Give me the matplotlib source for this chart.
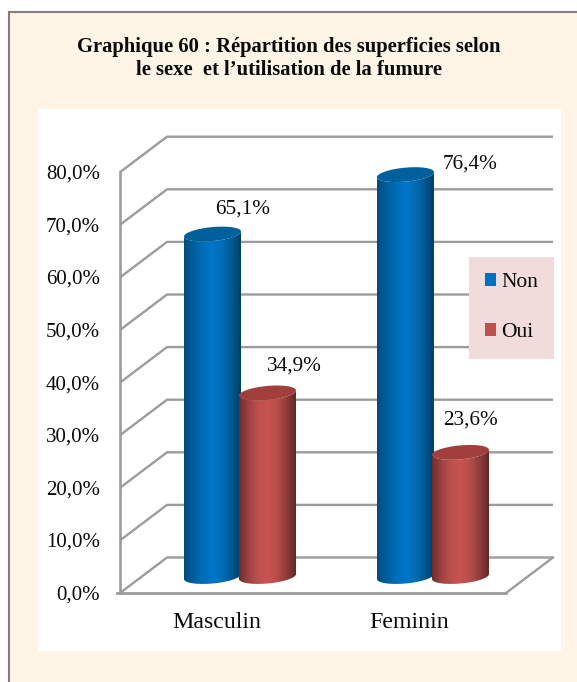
import numpy as np
import matplotlib
matplotlib.use('Agg')
import matplotlib.pyplot as plt
from matplotlib.patches import Patch, Polygon, Rectangle
from matplotlib.colors import LinearSegmentedColormap

categories = ['Masculin', 'Feminin']
series_names = ['Non', 'Oui']
non_values = [65.1, 76.4]
oui_values = [34.9, 23.6]
y_ticks = [0, 10, 20, 30, 40, 50, 60, 70, 80]
title_lines = ['Graphique 60 : Répartition des superficies selon', 'le sexe  et l’utilisation de la fumure']

W, H = 577, 682
plt.rcParams['font.family'] = ['Liberation Serif', 'DejaVu Serif']
text_c = '#0A0A0A'

fig = plt.figure(figsize=(W / 100, H / 100), dpi=100, facecolor='white')

# background panels, in pixels from top left
bg = fig.add_axes([0, 0, 1, 1])
bg.set_xlim(0, W)
bg.set_ylim(H, 0)
bg.axis('off')
bg.add_patch(Rectangle((9, 12), W - 9, H - 12, fc='#FEF5E7', ec='none'))
bg.plot([9, 9], [H, 12], color='#808080', lw=1.5, solid_capstyle='projecting')
bg.plot([9, W], [12, 12], color='#808080', lw=1.5)
bg.add_patch(Rectangle((38, 109), 523, 542, fc='white', ec='none'))
bg.text(289, 47, title_lines[0], ha='center', va='center', fontsize=14.9, fontweight='bold', color=text_c)
bg.text(289, 70, title_lines[1], ha='center', va='center', fontsize=14.9, fontweight='bold', color=text_c)

# plot axes: x from the front wall to the back right corner, y from floor to back top
x0, x1 = 120, 553
y0, y1 = 593, 136
ax = fig.add_axes([x0 / W, 1 - y0 / H, (x1 - x0) / W, (y0 - y1) / H])
ax.patch.set_alpha(0)
px_per_cat = 193.0
px_per_pct = 5.26
cx0 = 241
xlim = ((x0 - cx0) / px_per_cat, (x1 - cx0) / px_per_cat)
ylim = (0, (y0 - y1) / px_per_pct)
ax.axis('off')

# 3d frame
grid_c = '#9C9C9C'
dx = 47 / px_per_cat
dy = 35.5 / px_per_pct
xl, xr = xlim
for t in y_ticks:
    ax.plot([xl, xl + dx, xr], [t, t + dy, t + dy], color=grid_c, lw=1.7, solid_capstyle='butt', clip_on=False)
ax.plot([xl, xl], [0, y_ticks[-1]], color=grid_c, lw=1.9, clip_on=False)
ax.plot([xl - 3 / px_per_cat, xr - dx], [0, 0], color=grid_c, lw=2.0, clip_on=False)
ax.plot([xr - dx, xr], [0, dy], color=grid_c, lw=1.7, clip_on=False)

cmap_non = LinearSegmentedColormap.from_list('non', ['#004C7C', '#005F9E', '#006DB8', '#0076C8', '#006DB6', '#005A94', '#003F68'])
cmap_oui = LinearSegmentedColormap.from_list('oui', ['#6E2D2B', '#9E4442', '#BD504D', '#C9544F', '#B84E4B', '#8F3E3C', '#642826'])
gradient = np.linspace(0, 1, 128).reshape(1, -1)

bar_w = 57 / px_per_cat
base = 16.5 / px_per_pct
ell_h = 7 / px_per_pct
tilt = 2.5 / px_per_pct


def cylinder(xc, value, cmap, top_color, z):
    left = xc - bar_w / 2
    right = xc + bar_w / 2
    top = base + value
    t = np.linspace(0, np.pi, 60)
    ex = xc - bar_w / 2 * np.cos(t)
    low = base - ell_h * np.sin(t) - tilt * np.cos(t)
    hi = top - ell_h * np.sin(t) - tilt * np.cos(t)
    outline = np.r_[np.c_[ex, low], np.c_[ex[::-1], hi[::-1]]]
    im = ax.imshow(gradient, extent=(left, right, base - ell_h - tilt, top + ell_h), aspect='auto',
                   cmap=cmap, zorder=z, interpolation='bilinear')
    im.set_clip_path(Polygon(outline, closed=True, transform=ax.transData))
    t2 = np.linspace(0, 2 * np.pi, 90)
    cap = np.c_[xc - bar_w / 2 * np.cos(t2), top - ell_h * np.sin(t2) - tilt * np.cos(t2)]
    ax.add_patch(Polygon(cap, closed=True, fc=top_color, ec='none', zorder=z + 0.1))


# Oui drawn after Non, it sits in front
for i in range(len(categories)):
    cylinder(i - bar_w / 2, non_values[i], cmap_non, '#00609C', 3)
    cylinder(i + bar_w / 2 - 2 / px_per_cat, oui_values[i], cmap_oui, '#A23F3D', 4)

ax.set_xlim(xlim)
ax.set_ylim(ylim)

# tick labels
for t in y_ticks:
    ax.annotate(f'{t:.1f}'.replace('.', ',') + '%', (xl, t), xytext=(-20, -2), textcoords='offset pixels',
                ha='right', va='center', fontsize=15, color=text_c)
label_dx = [-24, -25]
for i, c in enumerate(categories):
    ax.annotate(c, (i, 0), xytext=(label_dx[i], -30), textcoords='offset pixels', ha='center', va='center',
                fontsize=17.2, color=text_c)

# data labels, offsets in pixels from the top of each bar
non_offsets = [(2, 25), (36, 11)]
oui_offsets = [(53, 27), (37, 32)]
for i in range(len(categories)):
    ax.annotate(f'{non_values[i]:.1f}'.replace('.', ',') + '%', (i, base + non_values[i]), xytext=non_offsets[i],
                textcoords='offset pixels', ha='center', va='center', fontsize=15.3, color=text_c, zorder=6)
    ax.annotate(f'{oui_values[i]:.1f}'.replace('.', ',') + '%', (i, base + oui_values[i]), xytext=oui_offsets[i],
                textcoords='offset pixels', ha='center', va='center', fontsize=15.3, color=text_c, zorder=6)

handles = [Patch(fc='#0070C0', ec='none'), Patch(fc='#C0504D', ec='none')]
bg2 = fig.add_axes([0, 0, 1, 1])
bg2.axis('off')
bg2.patch.set_alpha(0)
leg = bg2.legend(handles, series_names, loc='upper left', bbox_to_anchor=(469 / W, 1 - 355 / H, 85 / W, 98 / H),
                 bbox_transform=fig.transFigure, mode='expand',
                 fontsize=15.5, frameon=True, fancybox=False, facecolor='#F2DCDB', edgecolor='none', framealpha=1,
                 handlelength=0.52, handleheight=0.52, handletextpad=0.23, labelspacing=1.45, borderpad=0.75,
                 borderaxespad=0, labelcolor=text_c)

fig.savefig('out.png', dpi=100)
